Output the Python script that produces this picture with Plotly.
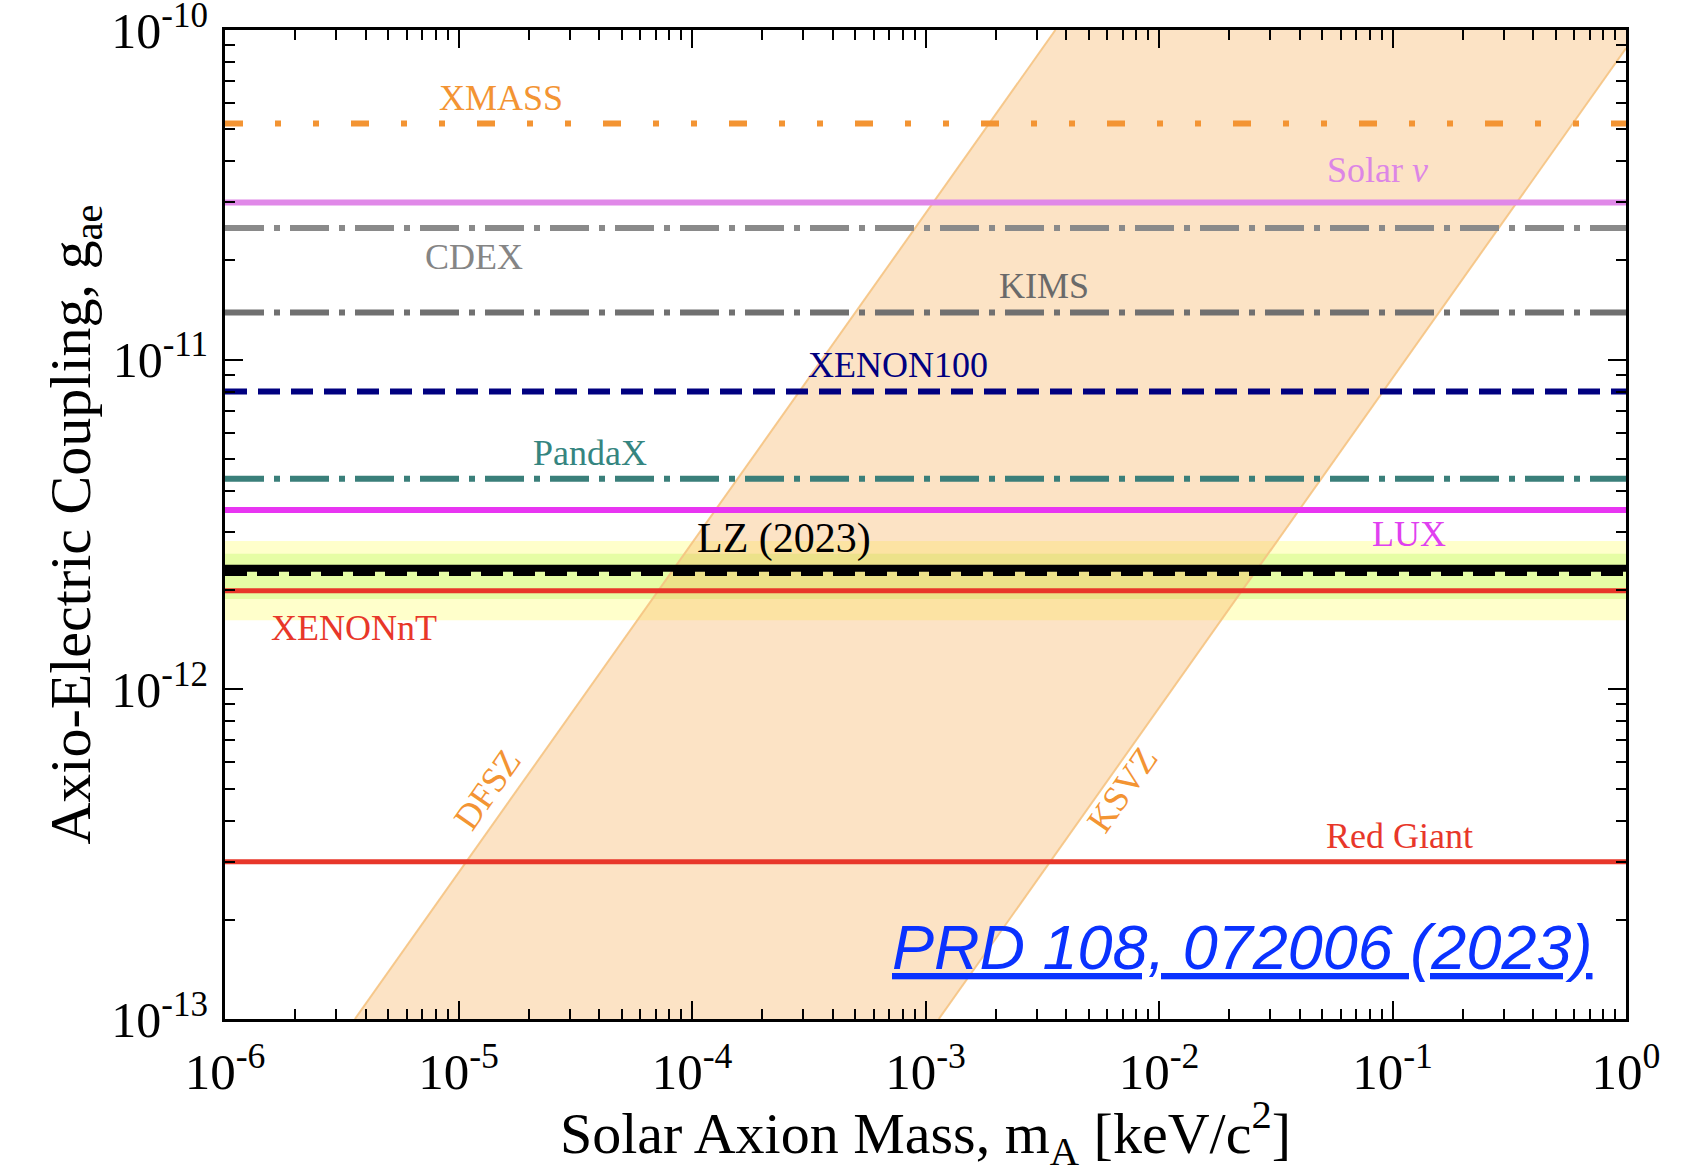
import plotly.graph_objects as go

# ---------------- data ----------------
x_range_mass = [1e-6, 1.0]

limit_names = ["XMASS", "Solar ν", "CDEX", "KIMS", "XENON100", "PandaX", "LUX", "XENONnT", "Red Giant"]
limit_values = [5.2e-11, 3.0e-11, 2.51e-11, 1.39e-11, 8.0e-12, 4.35e-12, 3.5e-12, 1.99e-12, 3.0e-13]
limit_colors = ["#F39433", "#E088E8", "#8A8A8A", "#707070", "#000080", "#3A7F7A", "#E835F2", "#E8372A", "#E8372A"]
limit_dashes = ["18px,32px,6px,32px,6px,32px", "solid", "39px,10px,6px,10px", "39px,10px,6px,10px",
                "22px,11px", "39px,10px,6px,10px", "solid", "solid", "solid"]
limit_widths = [6, 6, 6, 6, 6, 6, 6, 5, 5]

lz_value = 2.33e-12
lz_dashed_value = 2.245e-12
lz_band_1sigma = [1.88e-12, 2.58e-12]
lz_band_2sigma = [1.62e-12, 2.82e-12]

# QCD axion band edges (mass keV, coupling)
dfsz_mass = [3.6e-6, 3.6e-3]
dfsz_g = [1e-13, 1e-10]
ksvz_mass = [1.14e-3, 1.0]
ksvz_g = [1e-13, 8.8e-11]
band_corner = [1.0, 1e-10]

x_tick_vals = [1e-6, 1e-5, 1e-4, 1e-3, 1e-2, 1e-1, 1e0]
x_tick_text = ["10<sup>-6</sup>", "10<sup>-5</sup>", "10<sup>-4</sup>", "10<sup>-3</sup>",
               "10<sup>-2</sup>", "10<sup>-1</sup>", "10<sup>0</sup>"]
y_tick_vals = [1e-13, 1e-12, 1e-11, 1e-10]
y_tick_text = ["10<sup>-13</sup>", "10<sup>-12</sup>", "10<sup>-11</sup>", "10<sup>-10</sup>"]
minor_mantissas = [2, 3, 4, 5, 6, 7, 8, 9]

# ---------------- figure ----------------
SERIF = "Liberation Serif"
fig = go.Figure()

# LZ 2-sigma (yellow) and 1-sigma (green) bands
fig.add_trace(go.Scatter(
    x=[x_range_mass[0], x_range_mass[1], x_range_mass[1], x_range_mass[0], x_range_mass[0]],
    y=[lz_band_2sigma[0], lz_band_2sigma[0], lz_band_2sigma[1], lz_band_2sigma[1], lz_band_2sigma[0]],
    fill="toself", fillcolor="rgba(255,255,140,0.45)", line=dict(width=0), mode="lines",
    hoverinfo="skip", showlegend=False))
fig.add_trace(go.Scatter(
    x=[x_range_mass[0], x_range_mass[1], x_range_mass[1], x_range_mass[0], x_range_mass[0]],
    y=[lz_band_1sigma[0], lz_band_1sigma[0], lz_band_1sigma[1], lz_band_1sigma[1], lz_band_1sigma[0]],
    fill="toself", fillcolor="rgba(200,250,120,0.45)", line=dict(width=0), mode="lines",
    hoverinfo="skip", showlegend=False))

# QCD axion band
fig.add_trace(go.Scatter(
    x=[dfsz_mass[0], dfsz_mass[1], band_corner[0], ksvz_mass[1], ksvz_mass[0], dfsz_mass[0]],
    y=[dfsz_g[0], dfsz_g[1], band_corner[1], ksvz_g[1], ksvz_g[0], dfsz_g[0]],
    fill="toself", fillcolor="rgba(245,175,90,0.35)", line=dict(width=0), mode="lines",
    hoverinfo="skip", showlegend=False))
for xs, ys in [(dfsz_mass, dfsz_g), (ksvz_mass, ksvz_g)]:
    fig.add_trace(go.Scatter(x=xs, y=ys, mode="lines",
                             line=dict(color="rgba(245,195,130,0.9)", width=2),
                             hoverinfo="skip", showlegend=False))

# horizontal limits
for name, val, col, dash, w in zip(limit_names, limit_values, limit_colors, limit_dashes, limit_widths):
    fig.add_trace(go.Scatter(x=x_range_mass, y=[val, val], mode="lines", name=name,
                             line=dict(color=col, width=w, dash=dash), showlegend=False))

# LZ result
fig.add_trace(go.Scatter(x=x_range_mass, y=[lz_value, lz_value], mode="lines",
                         line=dict(color="black", width=7), showlegend=False))
fig.add_trace(go.Scatter(x=x_range_mass, y=[lz_dashed_value, lz_dashed_value], mode="lines",
                         line=dict(color="black", width=5, dash="22px,10px"), showlegend=False))

# labels
labels = [
    ("XMASS", -4.8185, -10.207, "#F39433", 36, 0),
    ("Solar <i>ν</i>", -1.0655, -10.4234, "#DC86E6", 36, 0),
    ("CDEX", -4.9344, -10.689, "#858585", 36, 0),
    ("KIMS", -2.4926, -10.778, "#6A6A6A", 36, 0),
    ("XENON100", -3.118, -11.0175, "#000080", 36, 0),
    ("PandaX", -4.4386, -11.283, "#358580", 36, 0),
    ("LUX", -0.931, -11.5295, "#E040F0", 36, 0),
    ("LZ (2023)", -3.6046, -11.5427, "black", 42, 0),
    ("XENONnT", -5.4486, -11.815, "#E8372A", 36, 0),
    ("Red Giant", -0.968, -12.445, "#E8372A", 36, 0),
    ("DFSZ", -4.8788, -12.304, "#F39433", 36, -55),
    ("KSVZ", -2.159, -12.304, "#F39433", 36, -55),
]
for text, lx, ly, col, size, ang in labels:
    fig.add_annotation(x=lx, y=ly, xref="x", yref="y", text=text, showarrow=False,
                       textangle=ang, font=dict(family=SERIF, size=size, color=col))

fig.add_annotation(x=-1.6448, y=-12.783, xref="x", yref="y",
                   text="<u><i>PRD 108, 072006 (2023)</i></u>", showarrow=False,
                   font=dict(family="Liberation Sans", size=63, color="#0A32FF"))

minor_x = [m * t for t in x_tick_vals[:-1] for m in minor_mantissas]
minor_y = [m * t for t in y_tick_vals[:-1] for m in minor_mantissas]

axis_common = dict(type="log", showgrid=False, zeroline=False, showline=True, linecolor="black",
                   linewidth=3, mirror="allticks", ticks="inside", ticklen=18, tickwidth=2,
                   tickcolor="black", ticklabeloverflow="allow", automargin=False)

fig.update_xaxes(**axis_common, range=[-6, 0], tickvals=x_tick_vals, ticktext=x_tick_text,
                 tickfont=dict(family=SERIF, size=51, color="black"),
                 minor=dict(ticks="inside", ticklen=10, tickwidth=2, tickcolor="black",
                            tickvals=minor_x, showgrid=False),
                 ticklabelstandoff=6,
                 title=dict(text="Solar Axion Mass, m<sub>A</sub> [keV/c<sup>2</sup>]",
                            font=dict(family=SERIF, size=58, color="black"), standoff=12))
fig.update_yaxes(**axis_common, range=[-13, -10], tickvals=y_tick_vals, ticktext=y_tick_text,
                 tickfont=dict(family=SERIF, size=50, color="black"),
                 minor=dict(ticks="inside", ticklen=10, tickwidth=2, tickcolor="black",
                            tickvals=minor_y, showgrid=False),
                 ticklabelstandoff=4,
                 title=dict(text="Axio-Electric Coupling, g<sub>ae</sub>",
                            font=dict(family=SERIF, size=58, color="black"), standoff=3))

fig.update_layout(width=1696, height=1174, margin=dict(l=225, r=70, t=30, b=155),
                  paper_bgcolor="white", plot_bgcolor="white", showlegend=False)

fig.write_html("out.html")
